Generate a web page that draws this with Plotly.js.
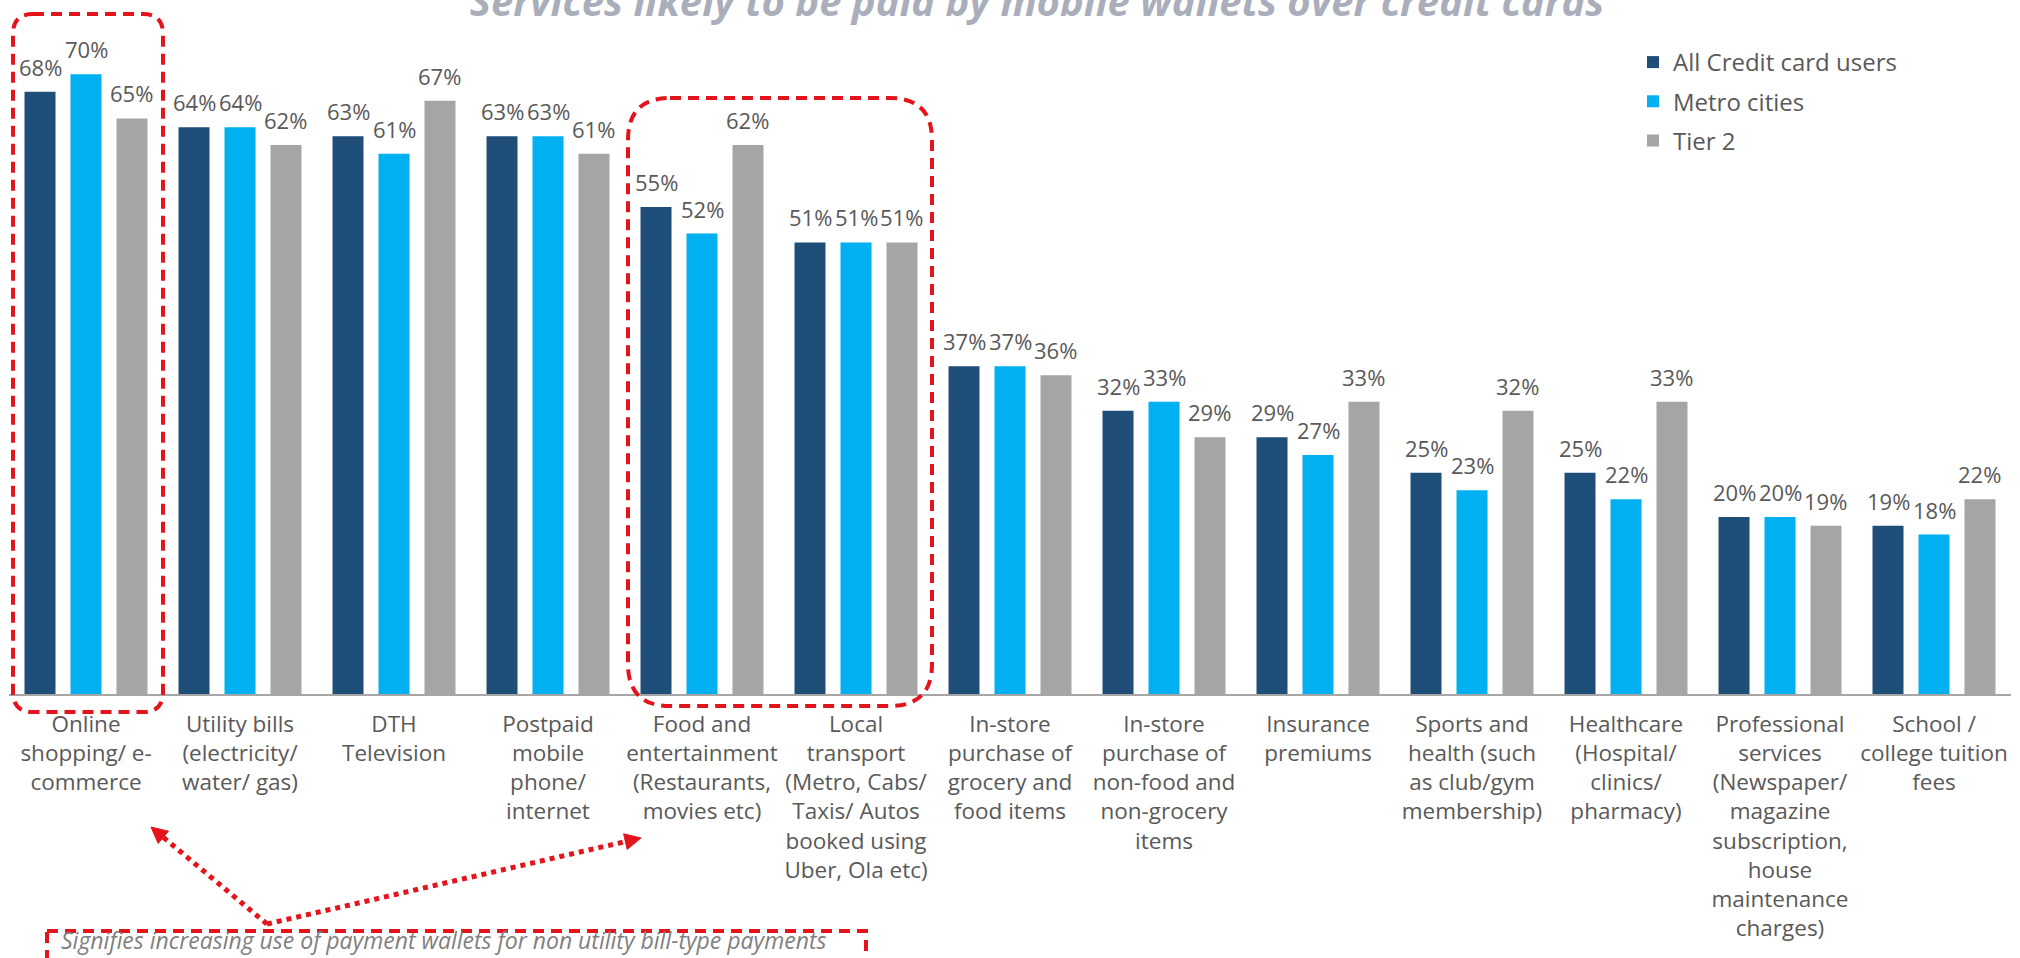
<!DOCTYPE html>
<html><head><meta charset="utf-8">
<script src="https://cdn.plot.ly/plotly-3.0.1.min.js"></script>
<style>html,body{margin:0;padding:0;background:#fff;overflow:hidden}#chart{width:2020px;height:958px}</style>
</head><body><div id="chart"></div>
<script>
const categories = [
  'Online<br>shopping/ e-<br>commerce',
  'Utility bills<br>(electricity/<br>water/ gas)',
  'DTH<br>Television',
  'Postpaid<br>mobile<br>phone/<br>internet',
  'Food and<br>entertainment<br>(Restaurants,<br>movies etc)',
  'Local<br>transport<br>(Metro, Cabs/<br>Taxis/ Autos<br>booked using<br>Uber, Ola etc)',
  'In-store<br>purchase of<br>grocery and<br>food items',
  'In-store<br>purchase of<br>non-food and<br>non-grocery<br>items',
  'Insurance<br>premiums',
  'Sports and<br>health (such<br>as club/gym<br>membership)',
  'Healthcare<br>(Hospital/<br>clinics/<br>pharmacy)',
  'Professional<br>services<br>(Newspaper/<br>magazine<br>subscription,<br>house<br>maintenance<br>charges)',
  'School /<br>college tuition<br>fees'
];
const allCreditCardUsers = [68, 64, 63, 63, 55, 51, 37, 32, 29, 25, 25, 20, 19];
const metroCities        = [70, 64, 61, 63, 52, 51, 37, 33, 27, 23, 22, 20, 18];
const tier2              = [65, 62, 67, 61, 62, 51, 36, 29, 33, 32, 33, 19, 22];
const seriesNames = ['All Credit card users', 'Metro cities', 'Tier 2'];
const titleText = 'Services likely to be paid by mobile wallets over credit cards';
const noteText = 'Signifies increasing use of payment wallets for non utility bill-type payments';

const seriesValues = [allCreditCardUsers, metroCities, tier2];
const seriesColors = ['#1F4E79', '#00B0F0', '#A5A5A5'];
const RED = '#E3141C';
const TXT = '#595959';
const FONT = '"Open Sans", sans-serif';

const W = 2020, H = 958, L = 9, R = 9, T = 20, B = 264;
const plotW = W - L - R, plotH = H - T - B;
const pxPerPct = 8.855;
const yMax = plotH / pxPerPct;
const bargap = 0.104, bargroupgap = 0.326;
const catW = plotW / categories.length;
const slotPx = catW * (1 - bargap) / 3;

const px2x = X => (X - L) / plotW;
const px2y = Y => (H - B - Y) / plotH;
const cx = i => L + (i + 0.5) * catW;

function roundRect(x0, y0, x1, y1, r) {
  const p = (X, Y) => px2x(X).toFixed(5) + ',' + px2y(Y).toFixed(5);
  return 'M' + p(x0 + r, y0) + ' L' + p(x1 - r, y0) + ' Q' + p(x1, y0) + ' ' + p(x1, y0 + r) +
    ' L' + p(x1, y1 - r) + ' Q' + p(x1, y1) + ' ' + p(x1 - r, y1) +
    ' L' + p(x0 + r, y1) + ' Q' + p(x0, y1) + ' ' + p(x0, y1 - r) +
    ' L' + p(x0, y0 + r) + ' Q' + p(x0, y0) + ' ' + p(x0 + r, y0) + ' Z';
}
function arrowHead(x0, y0, x1, y1, len, half) {
  const dx = x1 - x0, dy = y1 - y0, d = Math.hypot(dx, dy);
  const ux = dx / d, uy = dy / d;
  const bx = x1 - ux * len, by = y1 - uy * len;
  const p = (X, Y) => px2x(X).toFixed(5) + ',' + px2y(Y).toFixed(5);
  return 'M' + p(x1, y1) + ' L' + p(bx - uy * half, by + ux * half) + ' L' + p(bx + uy * half, by - ux * half) + ' Z';
}

const traces = seriesNames.map((name, s) => ({
  type: 'bar', name: name, x: categories, y: seriesValues[s],
  marker: { color: seriesColors[s] }, legendgroup: 'g' + s, hoverinfo: 'skip'
}));

const annotations = [];
seriesValues.forEach((vals, s) => {
  vals.forEach((v, i) => {
    annotations.push({
      x: categories[i], y: v, xref: 'x', yref: 'y', text: v + '%', showarrow: false,
      xshift: (s - 1) * slotPx, yanchor: 'bottom', yshift: 8,
      font: { family: FONT, size: 22, color: TXT }
    });
  });
});
annotations.push({
  xref: 'paper', yref: 'paper', x: px2x(60), y: px2y(940), xanchor: 'left', yanchor: 'middle',
  text: noteText, showarrow: false, borderpad: 0,
  font: { family: FONT, size: 23, color: '#7F7F7F', style: 'italic' }
});

const shapes = [];
const boxLine = { color: RED, width: 4, dash: '11px,7px' };
shapes.push({ type: 'path', xref: 'paper', yref: 'paper', path: roundRect(cx(0) - 73, 14, cx(0) + 77, 712, 20), line: boxLine });
shapes.push({ type: 'path', xref: 'paper', yref: 'paper', path: roundRect(cx(4) - 74, 98, cx(5) + 76, 706, 42), line: boxLine });
shapes.push({ type: 'rect', xref: 'paper', yref: 'paper', x0: px2x(47), x1: px2x(866), y0: px2y(931), y1: px2y(1000), line: boxLine });
const jx = 267, jy = 924;
const tips = [[151, 827], [641, 838]];
tips.forEach(t => {
  const dx = t[0] - jx, dy = t[1] - jy, d = Math.hypot(dx, dy);
  const ex = t[0] - dx / d * 12, ey = t[1] - dy / d * 12;
  shapes.push({ type: 'line', xref: 'paper', yref: 'paper', x0: px2x(jx), y0: px2y(jy), x1: px2x(ex), y1: px2y(ey), line: { color: RED, width: 5, dash: 'dot' } });
  shapes.push({ type: 'path', xref: 'paper', yref: 'paper', path: arrowHead(jx, jy, t[0], t[1], 16, 8), fillcolor: RED, line: { color: RED, width: 1 } });
});

const layout = {
  width: W, height: H,
  margin: { l: L, r: R, t: T, b: B },
  paper_bgcolor: '#FFFFFF', plot_bgcolor: '#FFFFFF',
  barmode: 'group', bargap: bargap, bargroupgap: bargroupgap,
  title: {
    text: titleText, xref: 'container', yref: 'container', x: 1037 / W, xanchor: 'center',
    y: 1 - 16 / H, yanchor: 'bottom',
    font: { family: FONT, size: 40, color: '#A9AEBA', weight: 'bold', style: 'italic' }
  },
  showlegend: true,
  legend: {
    x: px2x(1633), y: px2y(40), xanchor: 'left', yanchor: 'top',
    traceorder: 'grouped', tracegroupgap: 5,
    font: { family: FONT, size: 24, color: TXT },
    bgcolor: 'rgba(0,0,0,0)'
  },
  xaxis: {
    type: 'category', tickangle: 0, dtick: 1, showline: true, linecolor: '#A6A6A6', linewidth: 1.5,
    ticks: '', showgrid: false, zeroline: false, fixedrange: true, ticklabelstandoff: 9,
    tickfont: { family: FONT, size: 22.5, color: TXT }
  },
  yaxis: { range: [0, yMax], visible: false, showgrid: false, zeroline: false, fixedrange: true },
  annotations: annotations,
  shapes: shapes
};

Plotly.newPlot('chart', traces, layout, { staticPlot: true, displayModeBar: false });
</script>
</body></html>
